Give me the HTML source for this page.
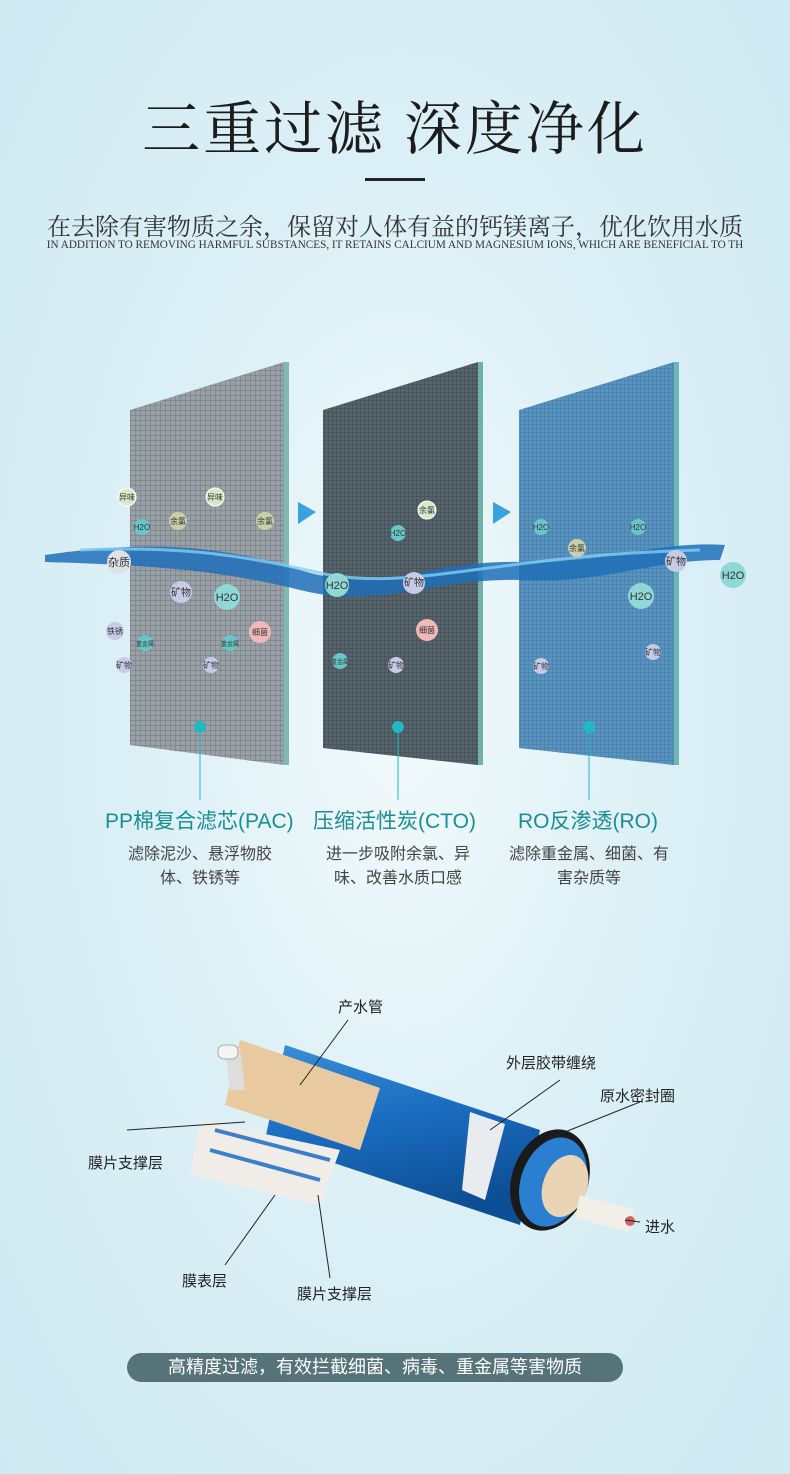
<!DOCTYPE html>
<html><head><meta charset="utf-8"><style>
body{margin:0;width:790px;height:1474px;overflow:hidden;position:relative;font-family:"Liberation Sans","Noto Sans CJK SC",sans-serif;background:radial-gradient(ellipse at 400px 700px,#f3fafc 0%,#dcf0f6 45%,#cfe9f2 100%);}
.t{position:absolute;left:0;width:790px;text-align:center;}
</style></head><body>
<div class="t" style="top:82px;font-size:58px;color:#1c1c1c;letter-spacing:3px;font-family:'Noto Serif CJK SC',serif;">三重过滤 深度净化</div>
<div style="position:absolute;left:365px;top:178px;width:60px;height:3px;background:#222"></div>
<div class="t" style="top:207px;font-size:24px;color:#333;font-family:'Noto Serif CJK SC',serif;white-space:nowrap;">在去除有害物质之余，保留对人体有益的钙镁离子，优化饮用水质</div>
<div class="t" style="top:239px;font-size:11.2px;color:#333;font-family:'Liberation Serif',serif;white-space:nowrap;">IN ADDITION TO REMOVING HARMFUL SUBSTANCES, IT RETAINS CALCIUM AND MAGNESIUM IONS, WHICH ARE BENEFICIAL TO TH</div>
<svg width="790" height="1474" style="position:absolute;left:0;top:0">
<defs>
<pattern id="g1" width="5" height="5" patternUnits="userSpaceOnUse"><rect width="5" height="5" fill="#9aa1a6"/><path d="M0 0H5M0 0V5" stroke="#6f777d" stroke-width="1"/></pattern>
<pattern id="g2" width="4" height="4" patternUnits="userSpaceOnUse"><rect width="4" height="4" fill="#56636a"/><path d="M0 0H4M0 0V4" stroke="#3f4a50" stroke-width="1"/></pattern>
<pattern id="g3" width="4" height="4" patternUnits="userSpaceOnUse"><rect width="4" height="4" fill="#5a93bd"/><path d="M0 0H4M0 0V4" stroke="#3f7aa6" stroke-width="1"/></pattern>
<linearGradient id="cyl" x1="0" y1="0" x2="0.3" y2="1"><stop offset="0" stop-color="#3a8fd6"/><stop offset="0.5" stop-color="#1a6cc0"/><stop offset="1" stop-color="#0d4f94"/></linearGradient>
</defs>
<polygon points="130,410 284,362 284,765 130,745" fill="url(#g1)"/><polygon points="284,362 289,362 289,765 284,765" fill="#7fb8b4"/>
<polygon points="323,410 478,362 478,765 323,748" fill="url(#g2)"/><polygon points="478,362 483,362 483,765 478,765" fill="#6fb0aa"/>
<polygon points="519,410 674,362 674,765 519,748" fill="url(#g3)"/><polygon points="674,362 679,362 679,765 674,765" fill="#6fb6b2"/>
<polygon points="298,502 316,512 298,524" fill="#3aa0e0"/><polygon points="493,502 511,512 493,524" fill="#3aa0e0"/>
<path d="M45,555 C150,540 220,545 300,570 C380,595 430,560 520,562 C600,565 660,540 725,545 L720,560 C650,560 600,585 520,580 C430,578 380,610 300,590 C220,570 150,565 45,562Z" fill="#1f6fb8" opacity="0.85"/>
<path d="M80,550 C200,545 260,560 330,575 C420,590 500,555 700,550" stroke="#7fd0f5" stroke-width="3" fill="none" opacity="0.8"/>
<g fill="#d9e9c8" stroke="#fff" stroke-width="1"><circle cx="127" cy="497" r="9"/><circle cx="215" cy="497" r="9"/><circle cx="427" cy="510" r="9"/></g>
<g fill="#c9cfa8"><circle cx="178" cy="521" r="9"/><circle cx="265" cy="521" r="9"/><circle cx="577" cy="548" r="9"/></g>
<g fill="#66c6c8"><circle cx="142" cy="527" r="8"/><circle cx="398" cy="533" r="8"/><circle cx="541" cy="527" r="8"/><circle cx="638" cy="527" r="8"/><circle cx="340" cy="661" r="8"/><circle cx="145" cy="643" r="8"/><circle cx="230" cy="643" r="8"/></g>
<g fill="#8fd8d6"><circle cx="227" cy="597" r="13"/><circle cx="641" cy="596" r="13"/><circle cx="733" cy="575" r="13"/><circle cx="337" cy="585" r="12"/></g>
<g fill="#c7cbe6"><circle cx="181" cy="592" r="11"/><circle cx="414" cy="583" r="11"/><circle cx="676" cy="561" r="11"/><circle cx="115" cy="631" r="9"/><circle cx="124" cy="665" r="8"/><circle cx="211" cy="665" r="8"/><circle cx="396" cy="665" r="8"/><circle cx="541" cy="666" r="8"/><circle cx="653" cy="652" r="8"/></g>
<g fill="#f0b8b8"><circle cx="260" cy="632" r="11"/><circle cx="427" cy="630" r="11"/></g>
<circle cx="119" cy="562" r="12" fill="#dde2e6"/>
<g font-size="8" fill="#333" text-anchor="middle"><text x="127" y="500">异味</text><text x="215" y="500">异味</text><text x="178" y="524">余氯</text><text x="265" y="524">余氯</text><text x="427" y="513">余氯</text><text x="577" y="551">余氯</text><text x="142" y="530">H2O</text><text x="398" y="536">H2O</text><text x="541" y="530">H2O</text><text x="638" y="530">H2O</text><text x="181" y="596" font-size="10">矿物</text><text x="414" y="586" font-size="10">矿物</text><text x="676" y="565" font-size="10">矿物</text><text x="115" y="634">铁锈</text><text x="124" y="668">矿物</text><text x="211" y="668">矿物</text><text x="396" y="668">矿物</text><text x="541" y="669">矿物</text><text x="653" y="655">矿物</text><text x="260" y="635">细菌</text><text x="427" y="633">细菌</text><text x="145" y="646" font-size="6">重金属</text><text x="230" y="646" font-size="6">重金属</text><text x="340" y="664" font-size="6">重金属</text><text x="119" y="566" font-size="11">杂质</text><text x="227" y="601" font-size="11">H2O</text><text x="641" y="600" font-size="11">H2O</text><text x="733" y="579" font-size="11">H2O</text><text x="337" y="589" font-size="11">H2O</text></g>
<g fill="#1fb8c4"><circle cx="200" cy="727" r="6"/><circle cx="398" cy="727" r="6"/><circle cx="589" cy="727" r="6"/></g>
<g stroke="#1fb8c4" stroke-width="1"><line x1="200" y1="727" x2="200" y2="800"/><line x1="398" y1="727" x2="398" y2="800"/><line x1="589" y1="727" x2="589" y2="800"/></g>
<g>
<path d="M285,1045 L540,1130 L520,1225 L265,1140Z" fill="url(#cyl)"/>
<ellipse cx="550" cy="1180" rx="38" ry="52" fill="#1a1a1a" transform="rotate(20 550 1180)"/>
<ellipse cx="553" cy="1182" rx="32" ry="46" fill="#2a7fd0" transform="rotate(20 553 1182)"/>
<ellipse cx="565" cy="1186" rx="22" ry="32" fill="#e9d5b5" transform="rotate(20 565 1186)"/>
<path d="M470,1112 L505,1124 L485,1200 L462,1190Z" fill="#e8ecee"/>
<path d="M580,1195 L635,1210 L628,1232 L575,1218Z" fill="#f2eee8"/>
<circle cx="630" cy="1221" r="5" fill="#c66"/>
<path d="M240,1040 L380,1088 L360,1150 L225,1105Z" fill="#e8c9a0"/>
<path d="M200,1120 L340,1150 L320,1205 L190,1175Z" fill="#f0ece8"/>
<path d="M215,1130 L330,1160 M210,1150 L320,1180" stroke="#3a80c8" stroke-width="4"/>
<path d="M225,1050 L240,1048 L245,1090 L230,1090Z" fill="#ddd"/>
<rect x="218" y="1045" width="20" height="14" rx="6" fill="#f4f4f4" stroke="#aaa"/>
</g>
<g stroke="#222" stroke-width="1" fill="none">
<polyline points="348,1020 300,1085"/><polyline points="560,1080 490,1130"/><polyline points="640,1102 545,1140"/>
<polyline points="127,1130 245,1122"/><polyline points="640,1222 625,1220"/><polyline points="225,1265 275,1195"/><polyline points="330,1278 318,1195"/>
</g>
</svg>
<div style="position:absolute;left:0;top:805px;width:790px;font-size:21px;color:#1b8d95;white-space:nowrap;">
<span style="position:absolute;left:105px">PP棉复合滤芯(PAC)</span><span style="position:absolute;left:313px">压缩活性炭(CTO)</span><span style="position:absolute;left:518px">RO反渗透(RO)</span></div>
<div style="position:absolute;top:843px;font-size:16px;color:#444;line-height:24px;left:100px;width:200px;text-align:center">滤除泥沙、悬浮物胶<br>体、铁锈等</div>
<div style="position:absolute;top:843px;font-size:16px;color:#444;line-height:24px;left:298px;width:200px;text-align:center">进一步吸附余氯、异<br>味、改善水质口感</div>
<div style="position:absolute;top:843px;font-size:16px;color:#444;line-height:24px;left:489px;width:200px;text-align:center">滤除重金属、细菌、有<br>害杂质等</div>
<div style="position:absolute;font-size:15px;color:#222;left:338px;top:996px">产水管</div>
<div style="position:absolute;font-size:15px;color:#222;left:506px;top:1052px">外层胶带缠绕</div>
<div style="position:absolute;font-size:15px;color:#222;left:600px;top:1085px">原水密封圈</div>
<div style="position:absolute;font-size:15px;color:#222;left:88px;top:1152px">膜片支撑层</div>
<div style="position:absolute;font-size:15px;color:#222;left:645px;top:1216px">进水</div>
<div style="position:absolute;font-size:15px;color:#222;left:182px;top:1270px">膜表层</div>
<div style="position:absolute;font-size:15px;color:#222;left:297px;top:1283px">膜片支撑层</div>
<div style="position:absolute;left:127px;top:1353px;width:496px;height:29px;border-radius:15px;background:#56737a;color:#fff;font-size:18px;line-height:29px;text-align:center">高精度过滤，有效拦截细菌、病毒、重金属等害物质</div>
</body></html>
